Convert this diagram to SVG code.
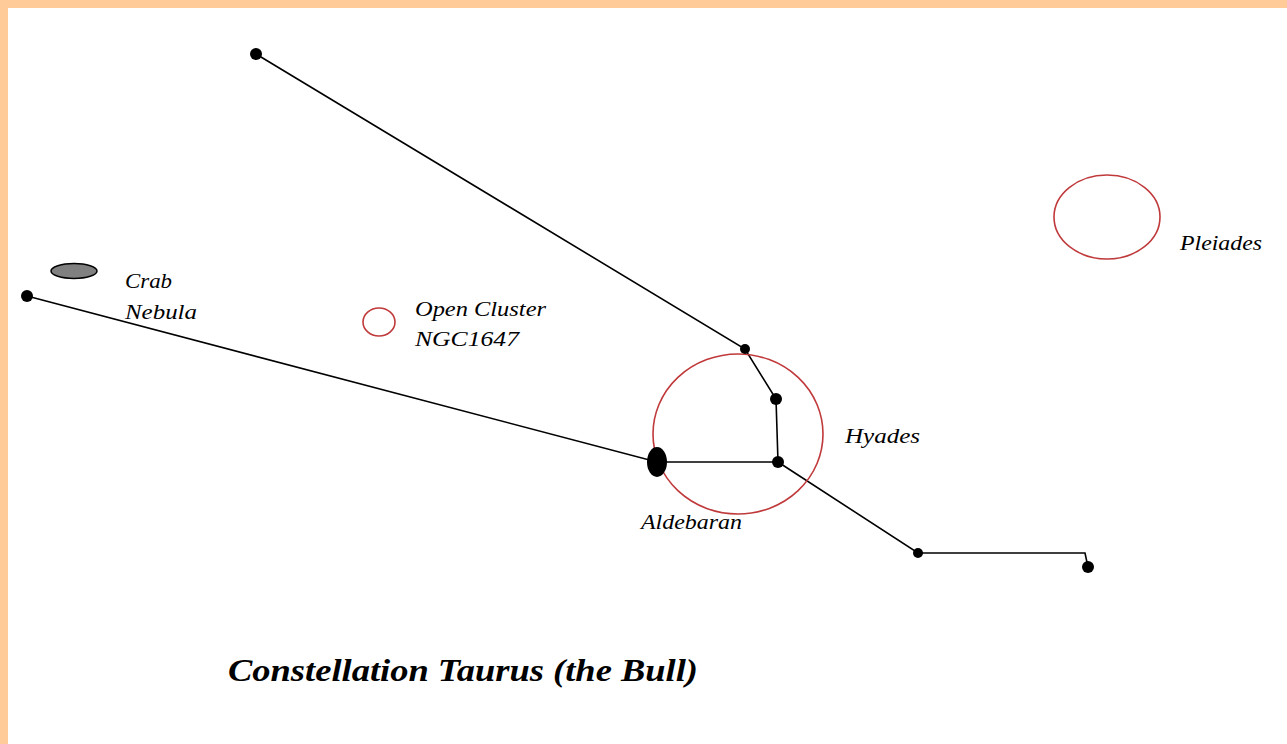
<svg xmlns="http://www.w3.org/2000/svg" width="1287" height="744" viewBox="0 0 1287 744">
<style>
.ln{stroke:#000;stroke-width:1.6;fill:none}
.star{fill:#000}
.cl{fill:none;stroke:#c0393b;stroke-width:1.6}
.lbl{font-family:"Liberation Serif",serif;font-style:italic;font-size:22px;fill:#000}
.title{font-family:"Liberation Serif",serif;font-style:italic;font-weight:bold;font-size:32px;fill:#000}
</style>
<rect x="0" y="0" width="1287" height="744" fill="#fff"/>
<rect x="0" y="0" width="1287" height="8" fill="#ffcc99"/>
<rect x="0" y="0" width="8" height="744" fill="#ffcc99"/>
<g id="connectors">
<polyline class="ln" points="256,54 745,349 776,399 778,462 657,462 27,296"/>
<polyline class="ln" points="778,462 918,553 1085,553 1088,567"/>
</g>
<g id="hyades"><ellipse class="cl" cx="738" cy="434" rx="85" ry="80"/><text class="lbl" x="845" y="443" textLength="75" lengthAdjust="spacingAndGlyphs">Hyades</text></g>
<g id="pleiades"><ellipse class="cl" cx="1107" cy="217" rx="53" ry="42"/><text class="lbl" x="1180" y="250" textLength="82" lengthAdjust="spacingAndGlyphs">Pleiades</text></g>
<g id="ngc1647"><ellipse class="cl" cx="379" cy="322" rx="16" ry="14"/><text class="lbl" x="415" y="316" textLength="131" lengthAdjust="spacingAndGlyphs">Open Cluster</text><text class="lbl" x="415" y="346" textLength="104" lengthAdjust="spacingAndGlyphs">NGC1647</text></g>
<g id="crab"><ellipse cx="74" cy="271" rx="23" ry="7.5" fill="#808080" stroke="#000" stroke-width="1.5"/><text class="lbl" x="125" y="288" textLength="47" lengthAdjust="spacingAndGlyphs">Crab</text><text class="lbl" x="125" y="319" textLength="72" lengthAdjust="spacingAndGlyphs">Nebula</text></g>
<g id="aldebaran"><ellipse class="star" cx="657" cy="462" rx="10" ry="15"/><text class="lbl" x="641" y="529" textLength="101" lengthAdjust="spacingAndGlyphs">Aldebaran</text></g>
<g id="star-top"><circle class="star" cx="256" cy="54" r="6"/></g>
<g id="star-a"><circle class="star" cx="745" cy="349" r="5"/></g>
<g id="star-b"><circle class="star" cx="776" cy="399" r="6"/></g>
<g id="star-c"><circle class="star" cx="778" cy="462" r="6"/></g>
<g id="star-d"><circle class="star" cx="918" cy="553" r="5"/></g>
<g id="star-e"><circle class="star" cx="1088" cy="567" r="6"/></g>
<g id="star-left"><circle class="star" cx="27" cy="296" r="6"/></g>
<g id="title"><text class="title" x="228" y="681" textLength="470" lengthAdjust="spacingAndGlyphs">Constellation Taurus (the Bull)</text></g>
</svg>
